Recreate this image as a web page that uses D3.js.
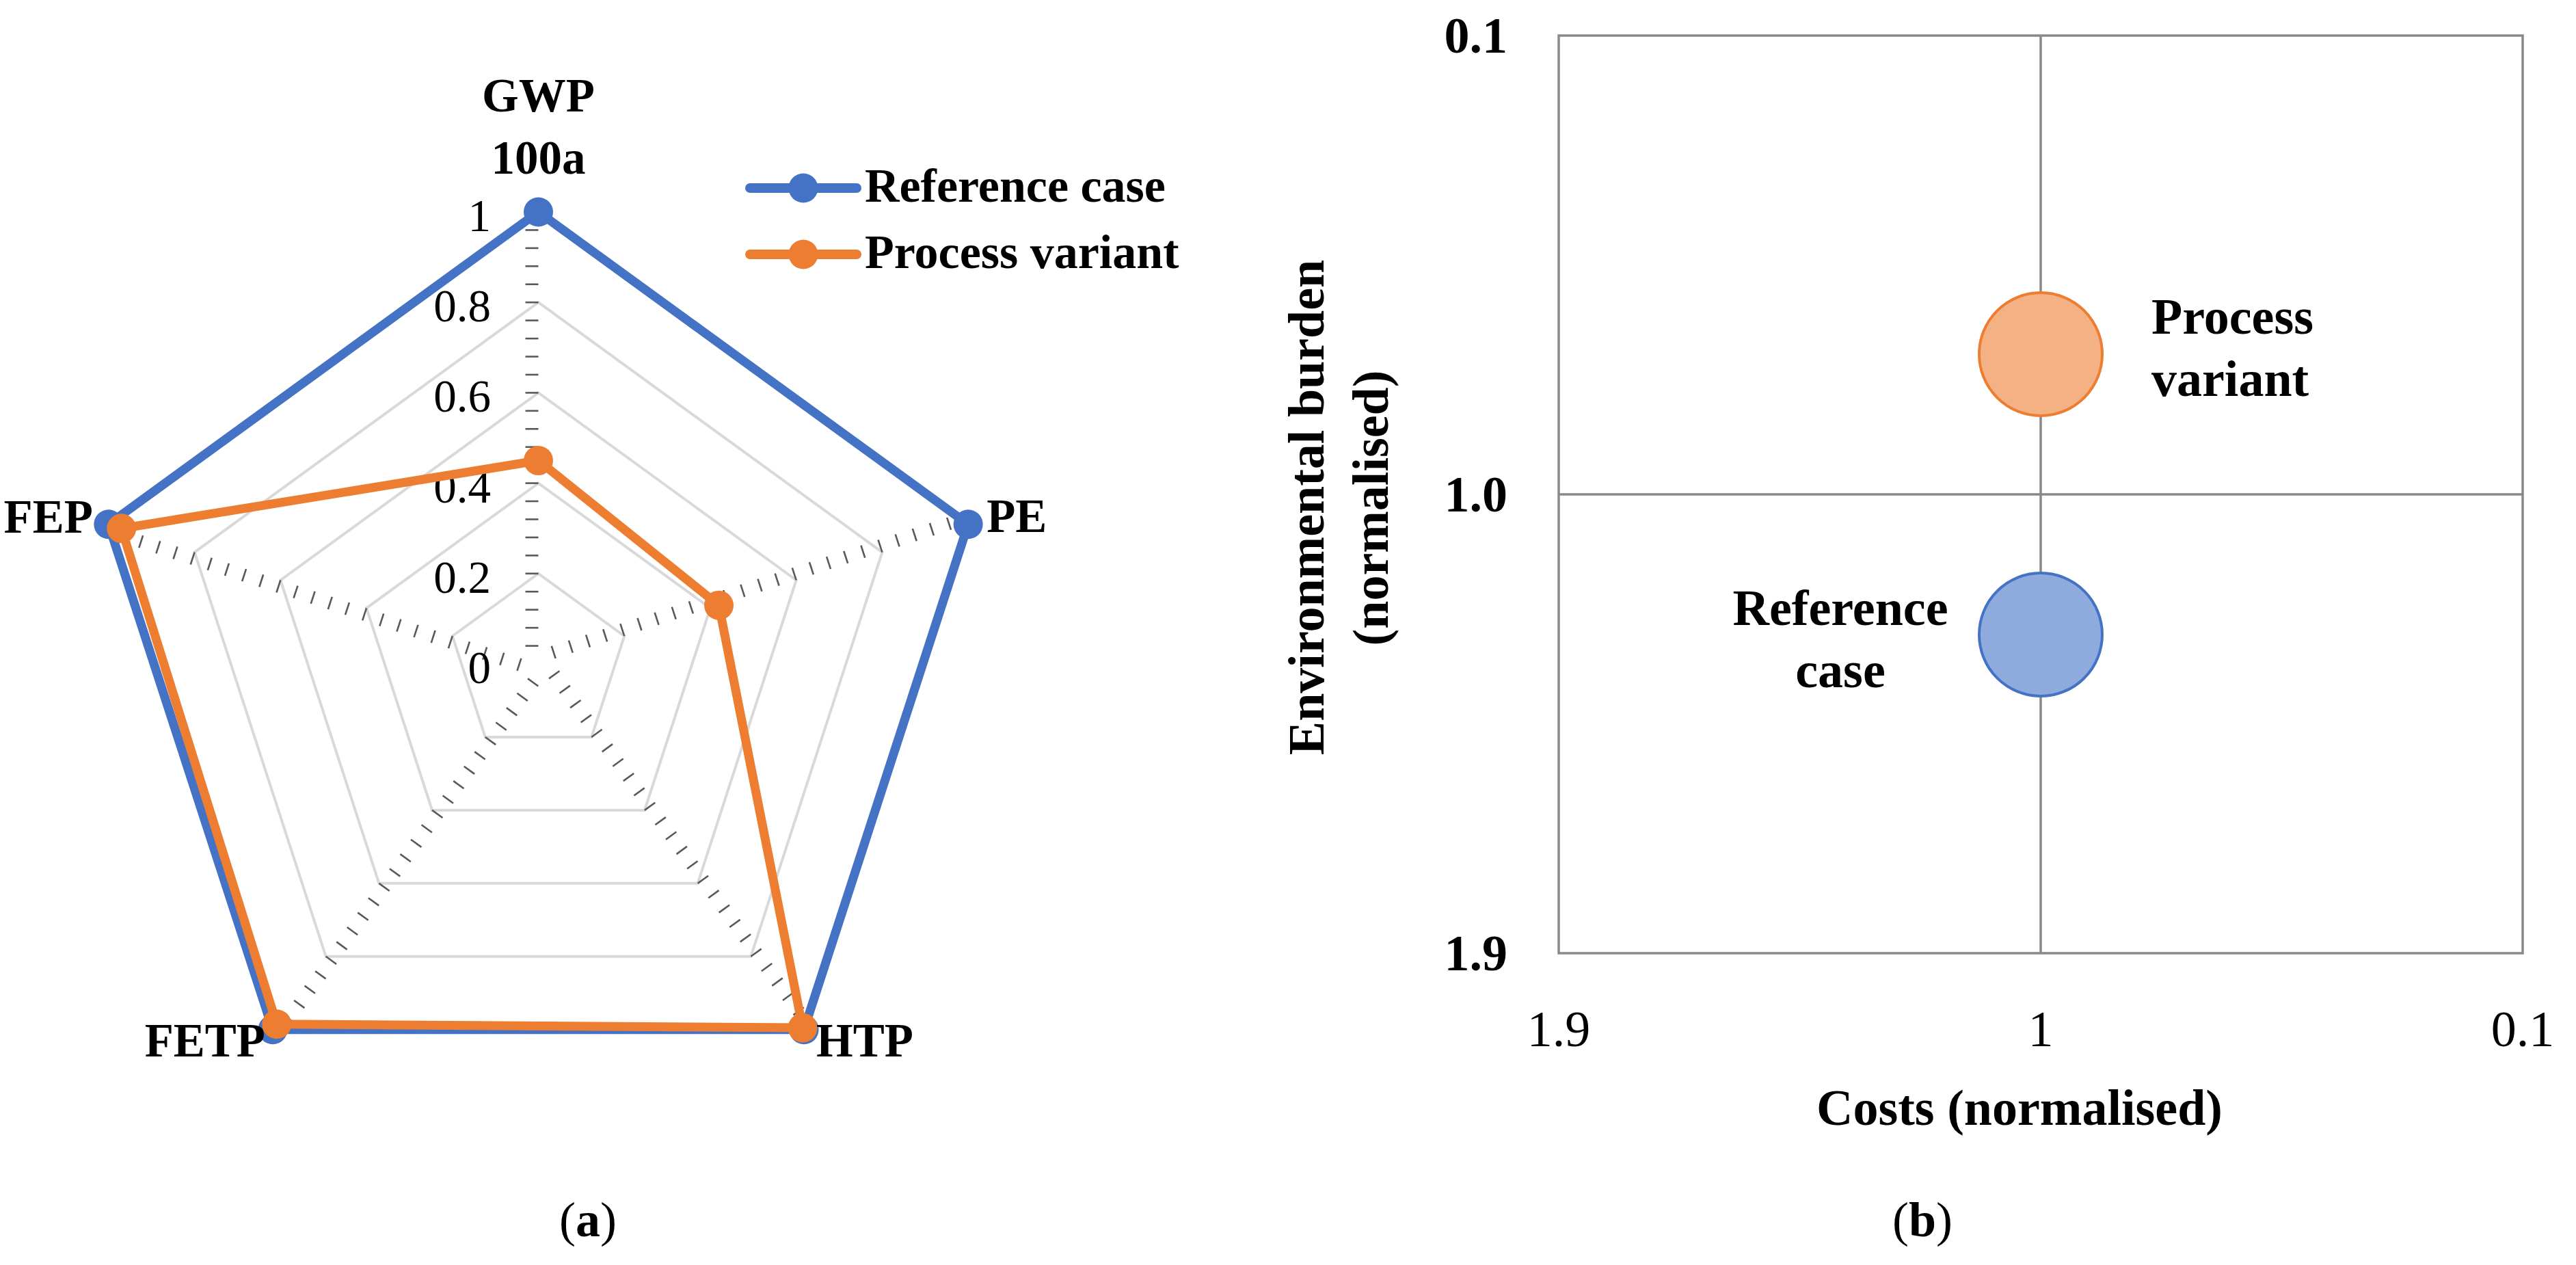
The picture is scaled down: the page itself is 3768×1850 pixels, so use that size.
<!DOCTYPE html>
<html>
<head>
<meta charset="utf-8">
<script src="https://cdn.jsdelivr.net/npm/d3@7"></script>
<style>
  html, body { margin: 0; padding: 0; background: #fff; }
  svg { display: block; }
  text { font-family: "Liberation Serif", "Times New Roman", serif; fill: #000; }
</style>
</head>
<body>
<svg id="chart" width="3768" height="1850"></svg>
<script>
// ---------- DATA ----------
const radarCategories = ["GWP 100a", "PE", "HTP", "FETP", "FEP"];
const radarCategoryLines = [["GWP", "100a"], ["PE"], ["HTP"], ["FETP"], ["FEP"]];
const seriesNames = ["Reference case", "Process variant"];
const referenceValues = [1.0, 1.0, 1.0, 1.0, 1.0];
const processValues = [0.45, 0.42, 0.995, 0.985, 0.97];
const radarTickLabels = ["0", "0.2", "0.4", "0.6", "0.8", "1"];
const radarTickValues = [0, 0.2, 0.4, 0.6, 0.8, 1.0];

const bubbleNames = [["Reference", "case"], ["Process", "variant"]];
const bubbleCosts = [1.0, 1.0];
const bubbleBurden = [1.275, 0.725];
const bubbleSizes = [1, 1];
const xTickValues = [1.9, 1.0, 0.1];
const xTickLabels = ["1.9", "1", "0.1"];
const yTickValues = [0.1, 1.0, 1.9];
const yTickLabels = ["0.1", "1.0", "1.9"];

const colors = ["#4472C4", "#ED7D31"];
const bubbleFill = ["#8FAADC", "#F4B183"];

// ---------- SETUP ----------
const svg = d3.select("#chart");
svg.append("rect").attr("width", 3768).attr("height", 1850).attr("fill", "#fff");

// ---------- RADAR (a) ----------
const cx = 787.5, cy = 971, R = 661;
const rScale = d3.scaleLinear().domain([0, 1]).range([0, R]);
const angle = i => (i * 2 * Math.PI) / radarCategories.length;
const pt = (i, v) => [cx + rScale(v) * Math.sin(angle(i)), cy - rScale(v) * Math.cos(angle(i))];

const radar = svg.append("g");

// grid rings
[0.2, 0.4, 0.6, 0.8, 1.0].forEach(v => {
  radar.append("path")
    .attr("d", d3.line()(radarCategories.map((c, i) => pt(i, v))) + "Z")
    .attr("fill", "none").attr("stroke", "#D9D9D9").attr("stroke-width", 4);
});

// tick marks on each spoke
const minorTicks = d3.range(1, 26).map(k => k * 0.04);
radarCategories.forEach((c, i) => {
  const a = angle(i);
  const dx = Math.sin(a), dy = -Math.cos(a);
  const px = dy, py = -dx; // perpendicular side
  minorTicks.forEach(v => {
    const [x, y] = pt(i, v);
    radar.append("line")
      .attr("x1", x).attr("y1", y)
      .attr("x2", x + px * 19).attr("y2", y + py * 19)
      .attr("stroke", "#595959").attr("stroke-width", 2.6);
  });
});

// tick labels
radarTickValues.forEach((v, k) => {
  radar.append("text")
    .attr("x", 718).attr("y", cy - rScale(v) + 5)
    .attr("dominant-baseline", "central")
    .attr("text-anchor", "end")
    .attr("font-size", 67)
    .text(radarTickLabels[k]);
});

// series
const seriesData = [referenceValues, processValues];
seriesData.forEach((vals, s) => {
  const pts = vals.map((v, i) => pt(i, v));
  radar.append("path")
    .attr("d", d3.line()(pts) + "Z")
    .attr("fill", "none").attr("stroke", colors[s])
    .attr("stroke-width", 13).attr("stroke-linejoin", "round");
  pts.forEach(p => {
    radar.append("circle").attr("cx", p[0]).attr("cy", p[1]).attr("r", 21.5)
      .attr("fill", colors[s]);
  });
});

// category labels
const labelLayout = [
  {anchor: "middle", dx: 0, dy: [-147, -56]},
  {anchor: "start", dx: 27, dy: [11]},
  {anchor: "start", dx: 18, dy: [39]},
  {anchor: "end", dx: -11, dy: [39]},
  {anchor: "end", dx: -23, dy: [12]}
];
radarCategoryLines.forEach((lines, i) => {
  const [x, y] = pt(i, 1);
  const L = labelLayout[i];
  lines.forEach((ln, j) => {
    radar.append("text")
      .attr("x", x + L.dx).attr("y", y + L.dy[j])
      .attr("text-anchor", L.anchor)
      .attr("font-size", 69).attr("font-weight", "bold")
      .text(ln);
  });
});

// legend
seriesNames.forEach((name, s) => {
  const ly = 275 + s * 97;
  const g = radar.append("g");
  g.append("line").attr("x1", 1097).attr("x2", 1253).attr("y1", ly).attr("y2", ly)
    .attr("stroke", colors[s]).attr("stroke-width", 14).attr("stroke-linecap", "round");
  g.append("circle").attr("cx", 1175).attr("cy", ly).attr("r", 21.5).attr("fill", colors[s]);
  g.append("text").attr("x", 1265).attr("y", ly + 20)
    .attr("font-size", 70).attr("font-weight", "bold").text(name);
});

// ---------- BUBBLE (b) ----------
const x = d3.scaleLinear().domain([1.9, 0.1]).range([2280, 3690]);
const y = d3.scaleLinear().domain([0.1, 1.9]).range([52, 1394]);
const size = d3.scaleSqrt().domain([0, 1]).range([0, 90]);
const bub = svg.append("g");

const gridColor = "#898989";
bub.append("line").attr("x1", x(1.0)).attr("x2", x(1.0)).attr("y1", y(0.1)).attr("y2", y(1.9))
  .attr("stroke", gridColor).attr("stroke-width", 3.5);
bub.append("line").attr("x1", x(1.9)).attr("x2", x(0.1)).attr("y1", y(1.0)).attr("y2", y(1.0))
  .attr("stroke", gridColor).attr("stroke-width", 3.5);
bub.append("rect").attr("x", x(1.9)).attr("y", y(0.1))
  .attr("width", x(0.1) - x(1.9)).attr("height", y(1.9) - y(0.1))
  .attr("fill", "none").attr("stroke", gridColor).attr("stroke-width", 3.5);

// x tick labels
xTickValues.forEach((v, k) => {
  bub.append("text").attr("x", x(v)).attr("y", 1530)
    .attr("text-anchor", "middle").attr("font-size", 74).text(xTickLabels[k]);
});
// y tick labels
yTickValues.forEach((v, k) => {
  bub.append("text").attr("x", 2205).attr("y", y(v))
    .attr("text-anchor", "end").attr("dominant-baseline", "central")
    .attr("font-size", 74).attr("font-weight", "bold").text(yTickLabels[k]);
});

// axis titles
bub.append("text").attr("x", 2954).attr("y", 1645)
  .attr("text-anchor", "middle").attr("font-size", 74).attr("font-weight", "bold")
  .text("Costs (normalised)");
bub.append("text").attr("transform", "translate(1936,742) rotate(-90)")
  .attr("text-anchor", "middle").attr("font-size", 74).attr("font-weight", "bold")
  .text("Environmental burden");
bub.append("text").attr("transform", "translate(2030,743) rotate(-90)")
  .attr("text-anchor", "middle").attr("font-size", 74).attr("font-weight", "bold")
  .text("(normalised)");

// bubbles
bubbleCosts.forEach((c, i) => {
  bub.append("circle").attr("cx", x(c)).attr("cy", y(bubbleBurden[i]))
    .attr("r", size(bubbleSizes[i]))
    .attr("fill", bubbleFill[i]).attr("stroke", colors[i]).attr("stroke-width", 4);
});

// bubble labels
const bubbleLabelLayout = [
  {anchor: "middle", dx: -293, dy: [-14, 77]},
  {anchor: "start", dx: 162, dy: [-30, 61]}
];
bubbleNames.forEach((lines, i) => {
  const L = bubbleLabelLayout[i];
  lines.forEach((ln, j) => {
    bub.append("text")
      .attr("x", x(bubbleCosts[i]) + L.dx)
      .attr("y", y(bubbleBurden[i]) + L.dy[j])
      .attr("text-anchor", L.anchor)
      .attr("font-size", 74).attr("font-weight", "bold").text(ln);
  });
});

// ---------- panel captions ----------
[["a", 860], ["b", 2812]].forEach(([letter, px]) => {
  const t = svg.append("text").attr("x", px).attr("y", 1808)
    .attr("text-anchor", "middle").attr("font-size", 72);
  t.append("tspan").text("(");
  t.append("tspan").attr("font-weight", "bold").text(letter);
  t.append("tspan").text(")");
});
</script>
</body>
</html>
